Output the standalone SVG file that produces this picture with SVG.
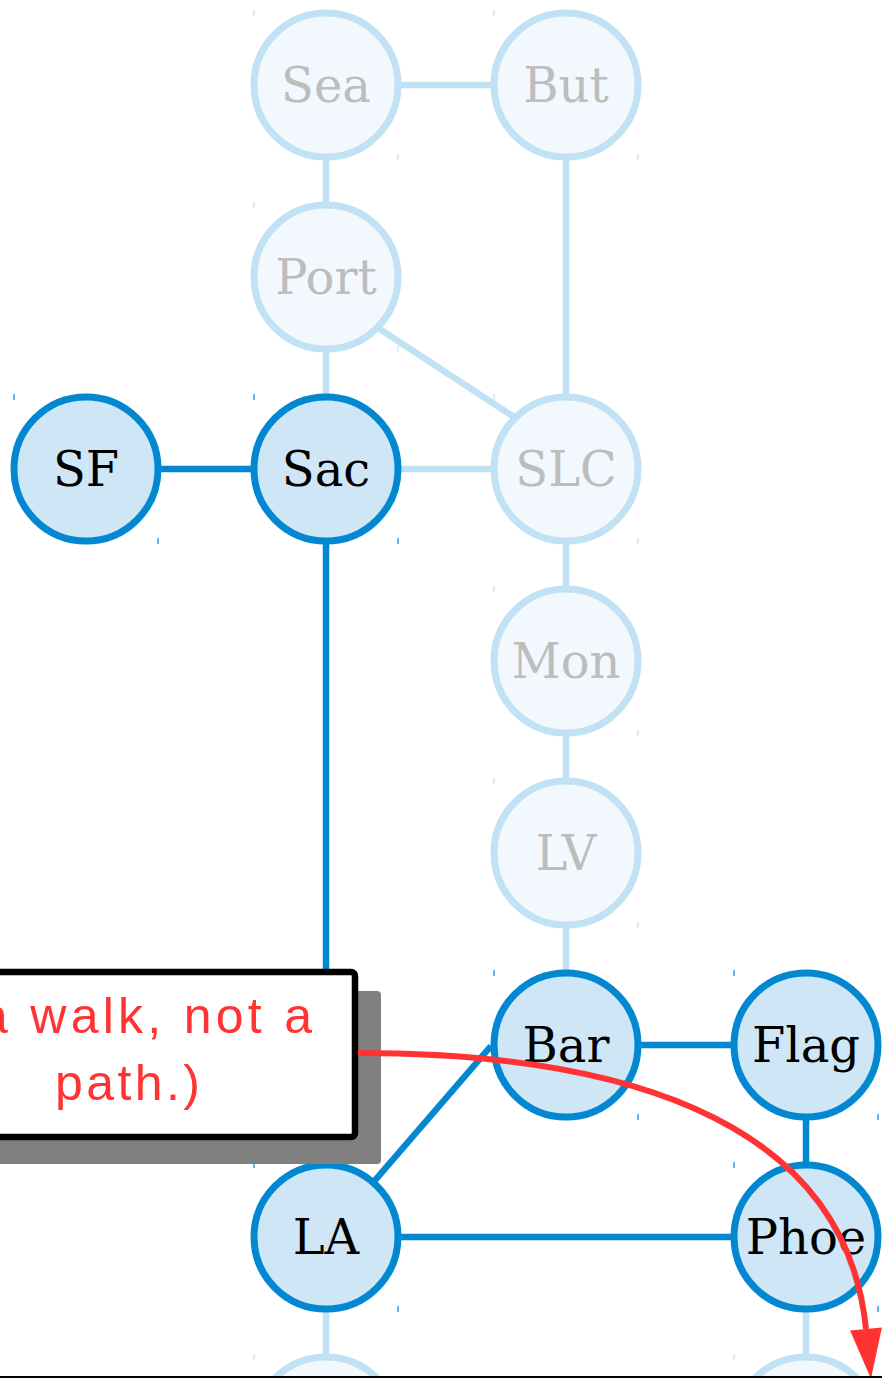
<svg xmlns="http://www.w3.org/2000/svg" width="882" height="1378" viewBox="0 0 882 1378">
<style>
.on circle{fill:#cee6f5;stroke:#0288d1;stroke-width:7}
.off circle{fill:#f2f8fd;stroke:#c1e1f4;stroke-width:7}
.on text{fill:#000}
.off text{fill:#bdbdbd}
text.lbl{font-family:"DejaVu Serif",serif;font-size:48px;text-anchor:middle}
.on .tk{stroke:#0288d1;stroke-width:1.2}
.off .tk{stroke:#c1e1f4;stroke-width:1.2}
.e-on{stroke:#0288d1;stroke-width:6.5;fill:none}
.e-off{stroke:#c1e1f4;stroke-width:6.5;fill:none}
.note{font-family:"Liberation Sans",sans-serif;font-size:50px;fill:#ff3333}
</style>
<defs>
<marker id="ah" markerUnits="userSpaceOnUse" markerWidth="52" markerHeight="34" refX="0" refY="16" orient="auto" overflow="visible">
<path d="M0,0 L50,16 L0,32 z" fill="#ff3333"/>
</marker>
</defs>
<rect width="882" height="1378" fill="#fff"/>
<g id="connectors">
<line class="e-off" x1="326" y1="85" x2="566" y2="85"/>
<line class="e-off" x1="326" y1="85" x2="326" y2="277"/>
<line class="e-off" x1="566" y1="85" x2="566" y2="469"/>
<line class="e-off" x1="326" y1="277" x2="326" y2="469"/>
<line class="e-off" x1="340" y1="303" x2="540" y2="434"/>
<line class="e-off" x1="326" y1="469" x2="566" y2="469"/>
<line class="e-off" x1="566" y1="469" x2="566" y2="661"/>
<line class="e-off" x1="566" y1="661" x2="566" y2="853"/>
<line class="e-off" x1="566" y1="853" x2="566" y2="1045"/>
<line class="e-off" x1="326" y1="1237" x2="326" y2="1429"/>
<line class="e-off" x1="806" y1="1237" x2="806" y2="1429"/>
<line class="e-on" x1="86" y1="469" x2="326" y2="469"/>
<line class="e-on" x1="326" y1="469" x2="326" y2="1237"/>
<line class="e-on" x1="326" y1="1237" x2="491" y2="1046"/>
<line class="e-on" x1="326" y1="1237" x2="806" y2="1237"/>
<line class="e-on" x1="566" y1="1045" x2="806" y2="1045"/>
<line class="e-on" x1="806" y1="1045" x2="806" y2="1237"/>
</g>
<g id="node-sea" class="off"><circle cx="326" cy="85" r="72"/><path class="tk" d="M254,10v6M398,154v6"/><text class="lbl" x="326" y="102">Sea</text></g>
<g id="node-but" class="off"><circle cx="566" cy="85" r="72"/><path class="tk" d="M494,10v6M638,154v6"/><text class="lbl" x="566" y="102">But</text></g>
<g id="node-port" class="off"><circle cx="326" cy="277" r="72"/><path class="tk" d="M254,202v6M398,346v6"/><text class="lbl" x="326" y="294">Port</text></g>
<g id="node-sf" class="on"><circle cx="86" cy="469" r="72"/><path class="tk" d="M14,394v6M158,538v6"/><text class="lbl" x="86" y="486">SF</text></g>
<g id="node-sac" class="on"><circle cx="326" cy="469" r="72"/><path class="tk" d="M254,394v6M398,538v6"/><text class="lbl" x="326" y="486">Sac</text></g>
<g id="node-slc" class="off"><circle cx="566" cy="469" r="72"/><path class="tk" d="M494,394v6M638,538v6"/><text class="lbl" x="566" y="486">SLC</text></g>
<g id="node-mon" class="off"><circle cx="566" cy="661" r="72"/><path class="tk" d="M494,586v6M638,730v6"/><text class="lbl" x="566" y="678">Mon</text></g>
<g id="node-lv" class="off"><circle cx="566" cy="853" r="72"/><path class="tk" d="M494,778v6M638,922v6"/><text class="lbl" x="566" y="870">LV</text></g>
<g id="node-bar" class="on"><circle cx="566" cy="1045" r="72"/><path class="tk" d="M494,970v6M638,1114v6"/><text class="lbl" x="566" y="1062">Bar</text></g>
<g id="node-flag" class="on"><circle cx="806" cy="1045" r="72"/><path class="tk" d="M734,970v6M878,1114v6"/><text class="lbl" x="806" y="1062">Flag</text></g>
<g id="node-la" class="on"><circle cx="326" cy="1237" r="72"/><path class="tk" d="M254,1162v6M398,1306v6"/><text class="lbl" x="326" y="1254">LA</text></g>
<g id="node-phoe" class="on"><circle cx="806" cy="1237" r="72"/><path class="tk" d="M734,1162v6M878,1306v6"/><text class="lbl" x="806" y="1254">Phoe</text></g>
<g id="node-bottom-left" class="off"><circle cx="326" cy="1429" r="72"/><path class="tk" d="M254,1354v6"/></g>
<g id="node-bottom-right" class="off"><circle cx="806" cy="1429" r="72"/><path class="tk" d="M734,1354v6"/></g>
<g id="callout">
<rect x="-80" y="991" width="461" height="173" rx="4" fill="#808080"/>
<rect x="-103" y="972" width="458" height="165" rx="4" fill="#fff" stroke="#000" stroke-width="6.5"/>
<text class="note" x="-20" y="1033" textLength="332" lengthAdjust="spacing">a walk, not a</text>
<text class="note" x="55" y="1100" textLength="145" lengthAdjust="spacing">path.)</text>
</g>
<g id="arrow">
<path d="M358,1053 C600,1053 844,1109 866,1329" fill="none" stroke="#ff3333" stroke-width="6" marker-end="url(#ah)"/>
</g>
<rect x="0" y="1376" width="882" height="2" fill="#000"/>
</svg>
